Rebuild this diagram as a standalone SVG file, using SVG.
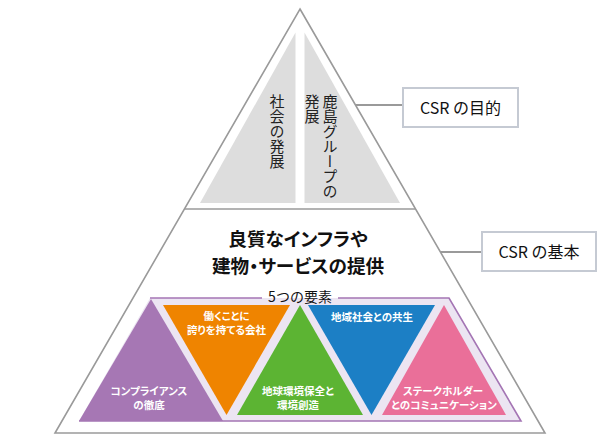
<svg xmlns="http://www.w3.org/2000/svg" width="600" height="440" viewBox="0 0 600 440">
<style>
text{font-family:"Noto Sans CJK JP","Noto Sans",sans-serif;}
.vt{writing-mode:vertical-rl;font-size:15px;fill:#222;}
.lbl{font-size:16px;fill:#111;text-anchor:middle;}
.box{fill:#fff;stroke:#c5cad3;stroke-width:2;}
.conn{stroke:#9a9a9a;stroke-width:2;fill:none;}
.main{font-size:18.6px;font-weight:bold;fill:#111;text-anchor:middle;font-feature-settings:"palt";}
.w{font-size:10.5px;font-weight:bold;fill:#fff;text-anchor:middle;font-feature-settings:"palt";}
</style>
<g id="pyramid">
<polygon points="300,9 545,433 55,433" fill="#fff" stroke="#9a9a9a" stroke-width="1.6"/>
<line x1="184.4" y1="209" x2="415.6" y2="209" stroke="#9a9a9a" stroke-width="1.6"/>
</g>
<g id="society">
<polygon points="295.5,32.6 295.5,203 200,203" fill="#dddddd"/>
<text class="vt" x="277" y="94">社会の発展</text>
</g>
<g id="kajima">
<polygon points="304.5,32.6 304.5,203 400,203" fill="#dddddd"/>
<text class="vt" x="330" y="94">鹿島グループの</text>
<text class="vt" x="312" y="94">発展</text>
</g>
<g id="connectors">
<line class="conn" x1="355.5" y1="105" x2="403" y2="105"/>
<line class="conn" x1="440.5" y1="252" x2="482" y2="252"/>
</g>
<g id="csr-purpose">
<rect class="box" x="403" y="88" width="115" height="39"/>
<text class="lbl" x="460.5" y="114">CSR の目的</text>
</g>
<g id="csr-basic">
<rect class="box" x="482" y="232" width="114" height="39"/>
<text class="lbl" x="539" y="258">CSR の基本</text>
</g>
<g id="basic-text">
<text class="main" x="298" y="246">良質なインフラや</text>
<text class="main" x="298" y="273">建物・サービスの提供</text>
</g>
<g id="five-elements">
<polygon points="150,298 449,298 521,421 79,421" fill="#ece5f2"/>
<polyline points="150,298 262,298" fill="none" stroke="#a475b4" stroke-width="1.6"/>
<polyline points="338,298 449,298 521,421 79,421" fill="none" stroke="#a475b4" stroke-width="1.6"/>
<text x="300" y="302" font-size="14" fill="#111" text-anchor="middle">5つの要素</text>
</g>
<g id="compliance">
<polygon points="151,299 223,421 79,421" fill="#a677b4"/>
<text class="w" x="149" y="395">コンプライアンス</text>
<text class="w" x="149" y="409">の徹底</text>
</g>
<g id="workplace">
<polygon points="163,305 290,305 226.5,415" fill="#ef8400"/>
<text class="w" x="226.5" y="320">働くことに</text>
<text class="w" x="226.5" y="334">誇りを持てる会社</text>
</g>
<g id="environment">
<polygon points="300,305 363,415 237,415" fill="#5cb433"/>
<text class="w" x="298" y="395">地球環境保全と</text>
<text class="w" x="298" y="409">環境創造</text>
</g>
<g id="community">
<polygon points="308,305 435,305 371.5,415" fill="#1c7fc5"/>
<text class="w" x="372" y="321">地域社会との共生</text>
</g>
<g id="stakeholder">
<polygon points="444,305 506,415 382,415" fill="#ea6f99"/>
<text class="w" x="443" y="395">ステークホルダー</text>
<text class="w" x="444" y="409">とのコミュニケーション</text>
</g>
</svg>
